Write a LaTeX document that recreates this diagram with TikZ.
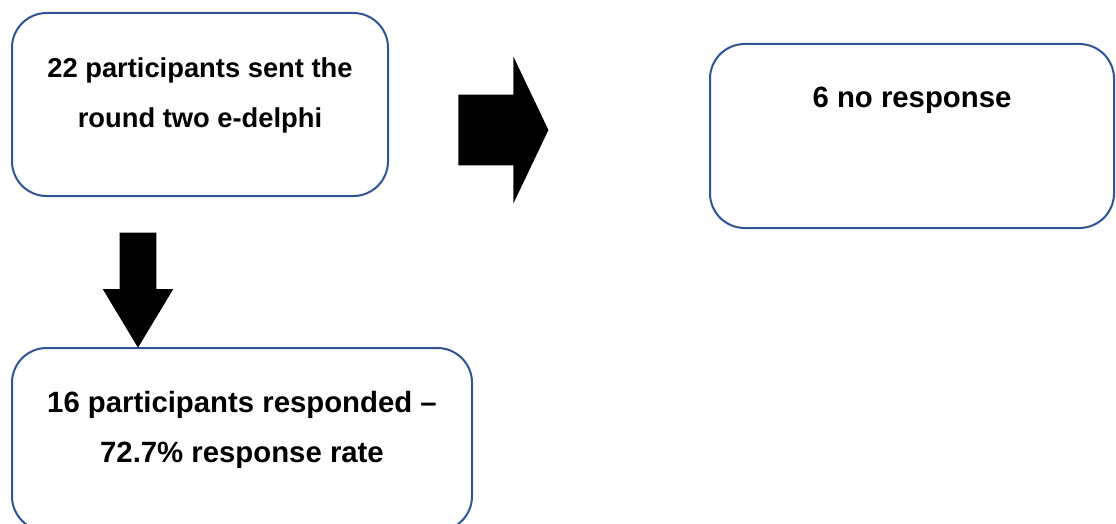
\documentclass[tikz,border=0pt]{standalone}
\usepackage{fontspec}
\setmainfont{Liberation Sans}
\usetikzlibrary{shapes.arrows, positioning}
\definecolor{boxblue}{RGB}{47,84,150}

\begin{document}
\begin{tikzpicture}[x=0.75pt, y=-0.75pt,
    stagebox/.style={draw=boxblue, line width=1.5pt, rounded corners=26pt,
                     fill=white, inner sep=0pt},
    stagetext/.style={font=\fontsize{22pt}{37.5pt}\selectfont\bfseries,
                      align=center, inner sep=0pt},
    blockarrow/.style={single arrow, fill=black, draw=none, inner xsep=0pt,
                       single arrow head indent=0pt}]
  \useasboundingbox (0,0) rectangle (1116,524);
  \clip (0,0) rectangle (1116,524);

  % boxes
  \node[stagebox, minimum width=282pt, minimum height=137.25pt] (sent) at (200,104.5) {};
  \node[stagetext, font=\fontsize{20.5pt}{37.5pt}\selectfont\bfseries,
        below=33.75pt of sent.north] (senttext)
    {22 participants sent the\\round two e-delphi};

  \node[stagebox, minimum width=303pt, minimum height=138pt] (noresp) at (912,136) {};
  \node[stagetext, below=32.75pt of noresp.north] (noresptext) {6 no response};

  % block arrows
  \node[blockarrow, minimum height=67.5pt, inner ysep=26.25pt,
        single arrow head extend=28.5pt, single arrow tip angle=129] (toright) at (495,130) {};
  \node[blockarrow, rotate=-90, minimum height=86.25pt, inner ysep=13.5pt,
        single arrow head extend=12.75pt, single arrow tip angle=62] (todown) at (138,275) {};

  \node[stagebox, minimum width=345pt, minimum height=137.25pt] (resp) at (242,439.5) {};
  \node[stagetext, below=32.75pt of resp.north] (resptext)
    {16 participants responded --\\72.7\% response rate};
\end{tikzpicture}
\end{document}
